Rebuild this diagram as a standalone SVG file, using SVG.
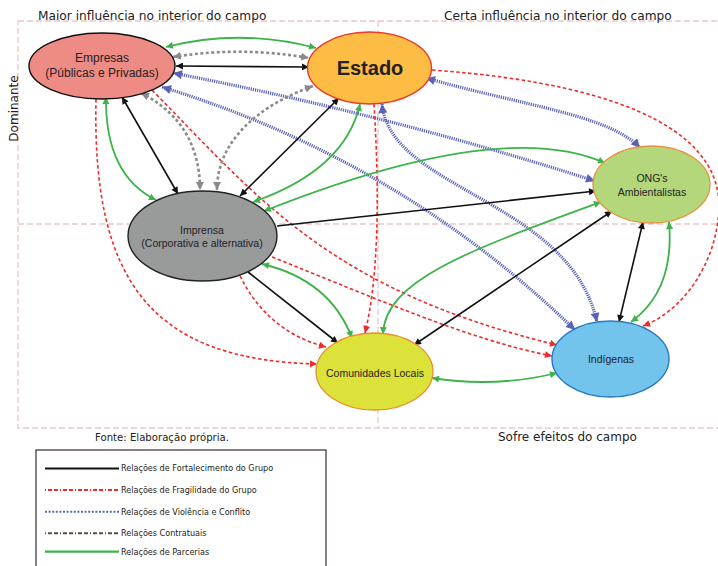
<svg xmlns="http://www.w3.org/2000/svg" width="718" height="566" viewBox="0 0 718 566">
<style>
.frame{fill:none;stroke:#e9c9c9;stroke-width:1.3;stroke-dasharray:6 3}
.lab{font-family:"DejaVu Sans",sans-serif;fill:#222}
.nt{font-family:"Liberation Sans",Arial,sans-serif;fill:#222;text-anchor:middle}
.blk{fill:none;stroke:#111;stroke-width:1.6}
.grn{fill:none;stroke:#3db34a;stroke-width:1.8}
.red{fill:none;stroke:#ee2b2b;stroke-width:1.6;stroke-dasharray:3.5 2.5}
.gry{fill:none;stroke:#8a8a8a;stroke-width:2.6;stroke-dasharray:3 2.5}
.blu{fill:none;stroke:#5a63b8;stroke-width:3.2;stroke-dasharray:1.2 1}
.k2{marker-start:url(#ak);marker-end:url(#ak)}
.k1{marker-end:url(#ak)}
.g2{marker-start:url(#ag);marker-end:url(#ag)}
.r1{marker-end:url(#ar)}
.y2{marker-start:url(#ay);marker-end:url(#ay)}
.b2{marker-start:url(#ab);marker-end:url(#ab)}
</style>
<defs>
<marker id="ak" viewBox="0 0 10 10" refX="10" refY="5" markerWidth="8" markerHeight="7" markerUnits="userSpaceOnUse" orient="auto-start-reverse"><path d="M0,0 L10,5 L0,10 z" fill="#111"/></marker>
<marker id="ag" viewBox="0 0 10 10" refX="10" refY="5" markerWidth="8" markerHeight="7" markerUnits="userSpaceOnUse" orient="auto-start-reverse"><path d="M0,0 L10,5 L0,10 z" fill="#3db34a"/></marker>
<marker id="ar" viewBox="0 0 10 10" refX="10" refY="5" markerWidth="8" markerHeight="7" markerUnits="userSpaceOnUse" orient="auto-start-reverse"><path d="M0,0 L10,5 L0,10 z" fill="#ee2b2b"/></marker>
<marker id="ay" viewBox="0 0 10 10" refX="10" refY="5" markerWidth="8" markerHeight="8" markerUnits="userSpaceOnUse" orient="auto-start-reverse"><path d="M0,0 L10,5 L0,10 z" fill="#8a8a8a"/></marker>
<marker id="ab" viewBox="0 0 10 10" refX="10" refY="5" markerWidth="10" markerHeight="9" markerUnits="userSpaceOnUse" orient="auto-start-reverse"><path d="M0,0 L10,5 L0,10 z" fill="#5a63b8"/></marker>
</defs>
<rect width="718" height="566" fill="#fff"/>
<g id="frame">
<rect class="frame" x="18" y="21" width="720" height="407"/>
<line class="frame" x1="18" y1="224" x2="718" y2="224"/>
<line class="frame" x1="378" y1="21" x2="378" y2="428"/>
</g>
<g id="labels">
<text class="lab" x="38" y="20" font-size="12.2">Maior influência no interior do campo</text>
<text class="lab" x="444" y="20" font-size="12.2">Certa influência no interior do campo</text>
<text class="lab" font-size="12" text-anchor="middle" transform="translate(18,108.5) rotate(-90)">Dominante</text>
<text class="lab" x="95" y="440.5" font-size="10.5" textLength="134" lengthAdjust="spacingAndGlyphs">Fonte: Elaboração própria.</text>
<text class="lab" x="498" y="440.5" font-size="12">Sofre efeitos do campo</text>
</g>
<g id="connectors">
<!-- red: fragilidade -->
<path class="red r1" d="M96,99 C92,280 150,360 317,364"/>
<path class="red r1" d="M152,90 C260,200 330,290 557,345"/>
<path class="red r1" d="M272,257 C380,300 470,340 552,356"/>
<path class="red r1" d="M240,276 Q268,332 326,347"/>
<path class="red r1" d="M374,104 C380,200 378,280 365,333"/>
<path class="red r1" d="M432,70 C640,85 730,140 718,220 C712,270 680,312 643,326"/>
<!-- blue: violencia -->
<path class="blu b2" d="M173,73 Q390,115 595,181"/>
<path class="blu b2" d="M162,87 Q400,160 575,330"/>
<path class="blu b2" d="M382,104 C390,190 570,200 597,322"/>
<path class="blu b2" d="M426,78 C520,105 610,115 640,148"/>
<!-- gray: contratuais -->
<path class="gry y2" d="M173,57 Q241,46 309,58"/>
<path class="gry y2" d="M141,93 C175,110 200,140 200,190"/>
<path class="gry y2" d="M313,86 C260,105 217,140 217,190"/>
<!-- green: parcerias -->
<path class="grn g2" d="M166,47 Q241,28 316,48"/>
<path class="grn g2" d="M106,97 Q105,175 156,200"/>
<path class="grn g2" d="M360,104 Q345,170 253,202"/>
<path class="grn g2" d="M264,211 C380,165 520,125 605,163"/>
<path class="grn g2" d="M262,264 Q330,280 352,338"/>
<path class="grn g2" d="M383,334 C385,280 470,250 601,202"/>
<path class="grn g2" d="M432,378 Q495,388 557,373"/>
<path class="grn g2" d="M669,222 Q675,290 631,322"/>
<!-- black: fortalecimento -->
<path class="blk k2" d="M176,66 L309,67"/>
<path class="blk k2" d="M122,97 L178,194"/>
<path class="blk k2" d="M339,98 L240,196"/>
<path class="blk k1" d="M277,226 L596,191"/>
<path class="blk k1" d="M248,272 L338,343"/>
<path class="blk k2" d="M414,345 L612,211"/>
<path class="blk k2" d="M643,222 L619,322"/>
</g>
<g id="empresas">
<ellipse cx="102" cy="66" rx="73" ry="33" fill="#ef8b85" stroke="#111" stroke-width="1.4"/>
<text class="nt" x="102" y="62" font-size="12">Empresas</text>
<text class="nt" x="102" y="77" font-size="12">(Públicas e Privadas)</text>
</g>
<g id="estado">
<ellipse cx="369.5" cy="68" rx="62" ry="36" fill="#fdbd45" stroke="#ea3b2a" stroke-width="1.4"/>
<text class="nt" x="370" y="75" font-size="20" font-weight="bold" fill="#111">Estado</text>
</g>
<g id="imprensa">
<ellipse cx="202.5" cy="236" rx="74.5" ry="45" fill="#999b9b" stroke="#222" stroke-width="1.4"/>
<text class="nt" x="202" y="233.5" font-size="10.5">Imprensa</text>
<text class="nt" x="202" y="247" font-size="10.5">(Corporativa e alternativa)</text>
</g>
<g id="ong">
<ellipse cx="651.5" cy="184.5" rx="58.5" ry="38.5" fill="#b5d77b" stroke="#e8913f" stroke-width="1.3"/>
<text class="nt" x="652" y="182" font-size="10.5">ONG's</text>
<text class="nt" x="652" y="196" font-size="10.5">Ambientalistas</text>
</g>
<g id="comunidades">
<ellipse cx="374.5" cy="371.5" rx="58.5" ry="38.5" fill="#dde23b" stroke="#e8902a" stroke-width="1.3"/>
<text class="nt" x="375" y="377" font-size="10.5">Comunidades Locais</text>
</g>
<g id="indigenas">
<ellipse cx="610.5" cy="359" rx="58.5" ry="38" fill="#73c4ec" stroke="#2a7bc2" stroke-width="1.4"/>
<text class="nt" x="611" y="363" font-size="10.5">Indígenas</text>
</g>
<g id="legend">
<rect x="36" y="450" width="290" height="130" fill="#fff" stroke="#4a3e3e" stroke-width="1.3"/>
<line x1="45" y1="468.5" x2="119" y2="468.5" stroke="#111" stroke-width="2.2"/>
<line x1="45" y1="490" x2="119" y2="490" stroke="#ee2b2b" stroke-width="2" stroke-dasharray="1 2 4 2 4 2"/>
<line x1="45" y1="511.7" x2="119" y2="511.7" stroke="#4a6fb0" stroke-width="2" stroke-dasharray="2 1.6"/>
<line x1="45" y1="533.3" x2="119" y2="533.3" stroke="#5a4c44" stroke-width="2" stroke-dasharray="1 2 4 2 4 2"/>
<line x1="45" y1="551.7" x2="119" y2="551.7" stroke="#3db34a" stroke-width="2.2"/>
<text class="lab" x="121" y="471.3" font-size="8.1">Relações de Fortalecimento do Grupo</text>
<text class="lab" x="121" y="492.8" font-size="8.1">Relações de Fragilidade do Grupo</text>
<text class="lab" x="121" y="514.5" font-size="8.1">Relações de Violência e Conflito</text>
<text class="lab" x="121" y="536.1" font-size="8.1">Relações Contratuais</text>
<text class="lab" x="121" y="554.5" font-size="8.1">Relações de Parcerias</text>
</g>
</svg>
